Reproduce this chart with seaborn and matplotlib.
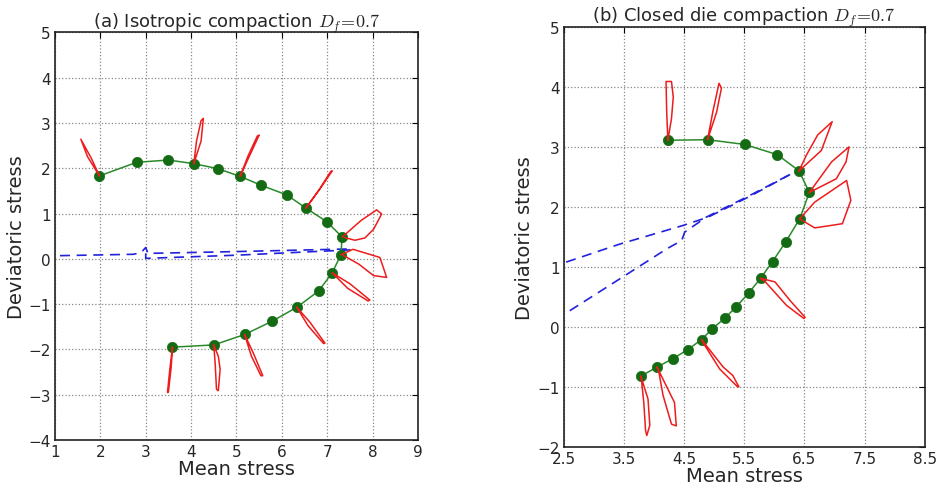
import matplotlib
matplotlib.use("Agg")
import matplotlib.pyplot as plt
import seaborn as sns
import pandas as pd

sns.set_style("white")
plt.rcParams['font.family'] = ['DejaVu Sans']
plt.rcParams['mathtext.fontset'] = 'cm'

# ---------------- Panel (a) data ----------------
a_path_x = [1.98, 2.80, 3.50, 4.06, 4.59, 5.08, 5.55, 6.11, 6.53, 6.99, 7.33,
            7.30, 7.11, 6.81, 6.33, 5.78, 5.18, 4.50, 3.59]
a_path_y = [1.83, 2.13, 2.18, 2.10, 1.99, 1.82, 1.62, 1.41, 1.12, 0.82, 0.48,
            0.09, -0.31, -0.71, -1.07, -1.38, -1.67, -1.90, -1.95]

a_loops = [
    ([1.98, 1.72, 1.57, 1.80, 1.98], [1.83, 2.25, 2.64, 2.22, 1.83]),
    ([4.06, 4.22, 4.27, 4.22, 4.12, 4.06], [2.10, 2.60, 3.10, 3.05, 2.60, 2.10]),
    ([5.08, 5.30, 5.50, 5.46, 5.26, 5.08], [1.82, 2.30, 2.73, 2.71, 2.28, 1.82]),
    ([6.53, 6.85, 7.11, 7.08, 6.82, 6.53], [1.12, 1.56, 1.94, 1.93, 1.52, 1.12]),
    ([7.33, 7.75, 8.09, 8.20, 8.02, 7.83, 7.61, 7.38], [0.48, 0.85, 1.08, 0.99, 0.65, 0.46, 0.41, 0.47]),
    ([7.30, 7.57, 8.16, 8.31, 8.02, 7.70, 7.35], [0.09, 0.21, 0.03, -0.41, -0.37, -0.12, 0.08]),
    ([7.11, 7.50, 7.94, 7.90, 7.45, 7.11], [-0.31, -0.55, -0.91, -0.93, -0.65, -0.31]),
    ([6.33, 6.62, 6.95, 6.92, 6.58, 6.33], [-1.07, -1.40, -1.86, -1.87, -1.48, -1.07]),
    ([5.18, 5.38, 5.58, 5.54, 5.33, 5.18], [-1.67, -2.10, -2.58, -2.58, -2.15, -1.67]),
    ([4.50, 4.60, 4.64, 4.60, 4.56, 4.53, 4.50], [-1.90, -2.15, -2.44, -2.91, -2.88, -2.30, -1.90]),
    ([3.59, 3.53, 3.48, 3.50, 3.56, 3.59], [-1.95, -2.45, -2.95, -2.94, -2.40, -1.95]),
]

a_blue1_x = [1.11, 2.73, 2.90, 3.00, 3.05, 5.00, 7.57]
a_blue1_y = [0.07, 0.10, 0.14, 0.25, 0.12, 0.16, 0.22]
a_blue2_x = [3.00, 3.00, 5.00, 7.57]
a_blue2_y = [0.12, 0.01, 0.08, 0.20]

# ---------------- Panel (b) data ----------------
b_path_x = [4.23, 4.89, 5.51, 6.05, 6.41, 6.58, 6.42, 6.19, 5.97, 5.77, 5.57,
            5.37, 5.18, 4.97, 4.79, 4.56, 4.31, 4.05, 3.78]
b_path_y = [3.11, 3.12, 3.04, 2.87, 2.60, 2.24, 1.80, 1.42, 1.09, 0.81, 0.56,
            0.34, 0.15, -0.03, -0.21, -0.38, -0.53, -0.67, -0.82]

b_loops = [
    ([4.23, 4.29, 4.32, 4.29, 4.20, 4.21, 4.23], [3.11, 3.47, 3.83, 4.09, 4.09, 3.60, 3.11]),
    ([4.89, 5.04, 5.12, 5.08, 4.98, 4.89], [3.12, 3.58, 3.98, 4.06, 3.60, 3.12]),
    ([6.41, 6.53, 6.72, 6.96, 6.78, 6.41], [2.60, 2.86, 3.20, 3.42, 2.94, 2.60]),
    ([6.58, 6.95, 7.24, 7.19, 7.03, 6.58], [2.24, 2.75, 3.00, 2.75, 2.47, 2.24]),
    ([6.42, 6.67, 7.20, 7.27, 7.13, 6.67, 6.42], [1.80, 2.08, 2.44, 2.11, 1.72, 1.65, 1.80]),
    ([5.77, 6.01, 6.26, 6.51, 6.49, 6.20, 5.85, 5.77], [0.81, 0.75, 0.44, 0.16, 0.14, 0.36, 0.75, 0.81]),
    ([4.79, 5.15, 5.31, 5.41, 5.38, 5.09, 4.82, 4.79], [-0.21, -0.67, -0.81, -1.00, -0.99, -0.70, -0.27, -0.21]),
    ([4.05, 4.34, 4.37, 4.29, 4.15, 4.08, 4.05], [-0.67, -1.26, -1.65, -1.62, -1.14, -0.75, -0.67]),
    ([3.78, 3.90, 3.93, 3.88, 3.86, 3.83, 3.79, 3.78], [-0.82, -1.20, -1.64, -1.81, -1.73, -1.26, -0.87, -0.82]),
]

b_blue1_x = [2.54, 3.43, 4.48, 4.90, 5.60, 6.26]
b_blue1_y = [1.08, 1.38, 1.69, 1.83, 2.18, 2.54]
b_blue2_x = [2.60, 3.43, 4.21, 4.46, 4.51, 4.87, 5.59, 6.26]
b_blue2_y = [0.27, 0.80, 1.30, 1.44, 1.58, 1.83, 2.19, 2.54]

# ---------------- drawing ----------------
fig = plt.figure(figsize=(9.38, 4.89), dpi=100)
ax1 = fig.add_axes([0.0586, 0.098, 0.387, 0.834])
ax2 = fig.add_axes([0.601, 0.084, 0.385, 0.859])

GREEN_LINE = '#2a8a2a'
GREEN_PT = '#136b13'
RED = '#ee1c1c'
BLUE = '#2222dd'


def draw(ax, path_x, path_y, loops, blues):
    for bx, by in blues:
        sns.lineplot(x=bx, y=by, ax=ax, sort=False, estimator=None, color=BLUE,
                     linewidth=1.2, dashes=False, linestyle=(0, (6, 4)))
    sns.lineplot(x=path_x, y=path_y, ax=ax, sort=False, estimator=None,
                 color=GREEN_LINE, linewidth=1.1, zorder=3)
    sns.scatterplot(x=path_x, y=path_y, ax=ax, color=GREEN_PT, s=55,
                    edgecolor=GREEN_PT, linewidth=0.5, zorder=4)
    for lx, ly in loops:
        sns.lineplot(x=lx, y=ly, ax=ax, sort=False, estimator=None,
                     color=RED, linewidth=1.1, zorder=5)


draw(ax1, a_path_x, a_path_y, a_loops,
     [(a_blue1_x, a_blue1_y), (a_blue2_x, a_blue2_y)])
draw(ax2, b_path_x, b_path_y, b_loops,
     [(b_blue1_x, b_blue1_y), (b_blue2_x, b_blue2_y)])

ax1.set_xlim(1, 9)
ax1.set_ylim(-4, 5)
ax1.set_xticks(range(1, 10))
ax1.set_yticks(range(-4, 6))
ax1.set_xticklabels([str(v) for v in range(1, 10)])
ax1.set_yticklabels([str(v).replace('-', '\u2212') for v in range(-4, 6)])
ax1.set_title(r"(a) Isotropic compaction $D_f\!=\!0.7$", fontsize=13, pad=4)

ax2.set_xlim(2.5, 8.5)
ax2.set_ylim(-2, 5)
b_xt = [2.5, 3.5, 4.5, 5.5, 6.5, 7.5, 8.5]
ax2.set_xticks(b_xt)
ax2.set_xticklabels([str(v) for v in b_xt])
ax2.set_yticks(range(-2, 6))
ax2.set_yticklabels([str(v).replace('-', '\u2212') for v in range(-2, 6)])
ax2.set_title(r"(b) Closed die compaction $D_f\!=\!0.7$", fontsize=13, pad=4)

for ax in (ax1, ax2):
    ax.set_xlabel("Mean stress", fontsize=14, labelpad=0)
    ax.set_ylabel("Deviatoric stress", fontsize=14, labelpad=2)
    ax.grid(True, color='#888888', linestyle=':', linewidth=0.9)
    ax.set_axisbelow(True)
    ax.tick_params(direction='in', top=True, right=True, length=4,
                   labelsize=11, color='black', pad=3)
    for s in ax.spines.values():
        s.set_color('#222222')
        s.set_linewidth(1.2)

fig.savefig("out.png", dpi=100)
